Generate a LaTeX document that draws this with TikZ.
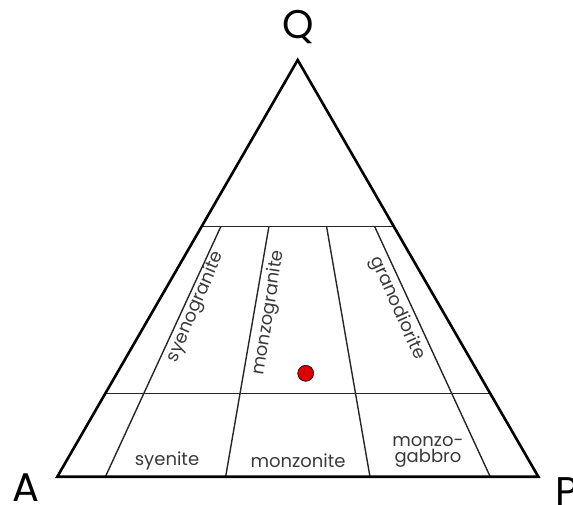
\documentclass[tikz,border=0pt]{standalone}
\usepackage{fontspec}
\setmainfont{Poppins}
\usetikzlibrary{calc}
\definecolor{txt}{HTML}{3A3A3A}
\definecolor{dotred}{HTML}{DD0000}
\tikzset{
  outline/.style={line width=2.6pt, line join=miter, black},
  inner/.style={line width=1.4pt, black!85},
  field/.style={text=txt, font=\fontsize{18}{19}\selectfont, inner sep=0pt},
  corner/.style={font=\fontsize{40}{40}\selectfont, inner sep=0pt, anchor=base},
}
\begin{document}
\begin{tikzpicture}[x=1pt,y=-1pt]
\useasboundingbox (0,0) rectangle (573,504);
\coordinate (Q) at (297.7,60);
\coordinate (A) at (57.3,476.7);
\coordinate (P) at (538.3,476.7);
% horizontal lines
\coordinate (u1) at ($(A)!0.6!(Q)$);
\coordinate (u2) at ($(P)!0.6!(Q)$);
\coordinate (l1) at ($(A)!0.2!(Q)$);
\coordinate (l2) at ($(P)!0.2!(Q)$);
% dividing lines
\foreach \f/\n in {0.1/a,0.35/b,0.65/c,0.9/d}{
  \coordinate (b\n) at ($(A)!\f!(P)$);
  \coordinate (t\n) at ($(b\n)!0.6!(Q)$);
}
\draw[inner] (u1) -- (u2);
\draw[inner] (l1) -- (l2);
\draw[inner] (ba) -- (ta);
\draw[inner] (bb) -- (tb);
\draw[inner] (bc) -- (tc);
\draw[inner] (bd) -- (td);
\draw[outline] (A) -- (Q) -- (P) -- cycle;
% labels
\node[field, rotate=67] (syg) at (196,307) {syenogranite};
\node[field, rotate=81] (mzg) at (269,313) {monzogranite};
\node[field, rotate=-66] (grd) at (397,308) {granodiorite};
\node[field] (sye) at (167,461) {syenite};
\node[field] (mzn) at (298,461) {monzonite};
\node[field, align=center, font=\fontsize{18}{16}\selectfont] (mzgb) at (428,452) {monzo-\\gabbro};
\node[corner] (lQ) at (298,38) {Q};
\node[corner] (lA) at (26,501) {A};
\node[corner, anchor=base west] (lP) at (555,505) {P};
\node[circle, fill=dotred, draw=black, line width=0.6pt, minimum size=16pt, inner sep=0pt] (dot) at (305.7,373.3) {};
\end{tikzpicture}
\end{document}
